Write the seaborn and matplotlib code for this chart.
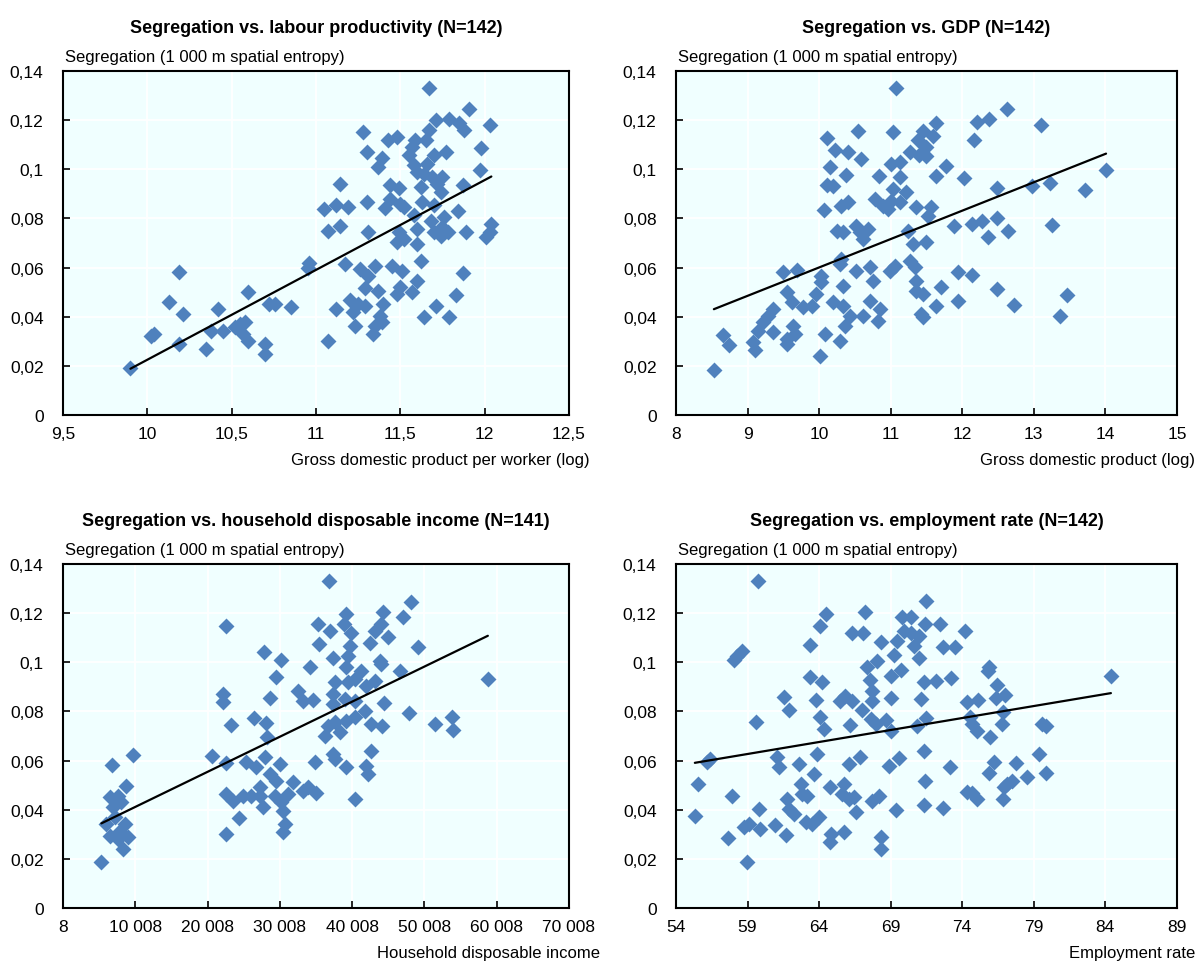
import matplotlib
matplotlib.use("Agg")
import matplotlib.pyplot as plt
import seaborn as sns
import numpy as np
import pandas as pd
from matplotlib.ticker import FuncFormatter

# Segregation vs. labour productivity (log GDP per worker)
prod_x = [9.90, 10.02, 10.04, 10.13, 10.19, 10.21, 10.19, 10.35, 10.38, 10.42, 10.45, 10.52,
          10.55, 10.58, 10.57, 10.60, 10.60, 10.70, 10.70, 10.72, 10.76, 10.85, 10.95, 10.96,
          11.67, 11.91, 12.03, 11.71, 11.79, 11.85, 11.88, 11.67, 11.65, 11.28, 11.43, 11.48,
          11.59, 11.57, 11.98, 11.30, 11.55, 11.70, 11.77, 11.39, 11.37, 11.58, 11.66, 11.60,
          11.64, 11.97, 11.69, 11.75, 11.14, 11.44, 11.49, 11.62, 11.72, 11.87, 11.74, 11.44,
          11.30, 11.05, 11.12, 11.19, 11.41, 11.50, 11.52, 11.63, 11.70, 11.84, 11.58, 11.68,
          11.76, 11.07, 11.14, 11.31, 11.49, 11.60, 11.70, 11.75, 11.78, 11.89, 12.04, 12.03,
          12.01, 11.74, 11.48, 11.52, 11.60, 11.17, 11.26, 11.35, 11.45, 11.51, 11.62, 11.31,
          11.60, 11.87, 11.29, 11.37, 11.50, 11.57, 11.48, 11.83, 11.12, 11.20, 11.25, 11.29,
          11.22, 11.40, 11.38, 11.39, 11.71, 11.64, 11.79, 11.23, 11.35, 11.34, 11.07]
prod_y = [0.019, 0.032, 0.033, 0.046, 0.058, 0.041, 0.029, 0.027, 0.034, 0.043, 0.034, 0.036,
          0.037, 0.038, 0.033, 0.030, 0.050, 0.029, 0.025, 0.045, 0.045, 0.044, 0.060, 0.062,
          0.133, 0.1245, 0.118, 0.120, 0.1205, 0.119, 0.116, 0.116, 0.112, 0.115, 0.1117, 0.113,
          0.1117, 0.109, 0.1085, 0.107, 0.106, 0.106, 0.107, 0.1045, 0.1008, 0.1017, 0.102, 0.0988,
          0.098, 0.0998, 0.0967, 0.0967, 0.094, 0.0936, 0.0923, 0.0927, 0.094, 0.0936, 0.0909, 0.088,
          0.0866, 0.0838, 0.0855, 0.0845, 0.0841, 0.0859, 0.0845, 0.0866, 0.0855, 0.0832, 0.0814, 0.0791,
          0.0805, 0.075, 0.0768, 0.0746, 0.0744, 0.0757, 0.0744, 0.0764, 0.0744, 0.0746, 0.0777, 0.0746,
          0.0723, 0.073, 0.0705, 0.0716, 0.0696, 0.0615, 0.0594, 0.0605, 0.0605, 0.0587, 0.0628, 0.0567,
          0.0547, 0.0578, 0.0516, 0.0506, 0.052, 0.0502, 0.0492, 0.0488, 0.0431, 0.0469, 0.0452, 0.0445,
          0.0418, 0.0452, 0.0404, 0.0377, 0.0445, 0.040, 0.040, 0.0364, 0.0364, 0.033, 0.030]

# Segregation vs. GDP (log)
gdp_x = [8.53, 8.66, 8.74, 9.10, 9.08, 9.14, 9.22, 9.29, 9.36, 9.36, 9.55, 9.55, 9.64, 9.66,
         9.50, 9.69, 9.55, 9.62, 9.78, 9.90, 9.96, 10.03, 10.03, 10.01, 10.08, 10.20, 10.29,
         10.34, 10.36, 10.34, 10.29, 10.31, 10.43, 10.52, 10.62, 10.71, 10.76, 10.71, 10.85,
         10.83, 10.99, 11.06, 10.07, 10.11, 10.20, 10.15, 10.11, 10.22, 10.41, 10.38, 10.30,
         10.41, 10.25, 10.34, 10.52, 10.57, 10.62, 10.69, 10.54, 10.58, 10.84, 10.78, 10.90,
         10.97, 11.01, 11.03, 11.13, 11.22, 11.13, 11.01, 11.13, 11.04, 11.07, 11.27, 11.38,
         11.45, 11.40, 11.36, 11.24, 11.31, 11.27, 11.34, 11.36, 11.36, 11.45, 11.43, 11.50,
         11.64, 11.59, 11.50, 11.49, 11.78, 11.63, 12.03, 12.20, 12.38, 12.63, 13.10, 12.16,
         11.57, 11.52, 11.88, 12.13, 12.28, 12.36, 12.49, 12.64, 12.49, 12.98, 13.22, 13.71,
         14.01, 13.26, 11.71, 11.94, 12.13, 11.94, 11.64, 11.45, 12.48, 12.73, 13.46, 13.36]
gdp_y = [0.0183, 0.0326, 0.0285, 0.0266, 0.0296, 0.0343, 0.0377, 0.0404, 0.0431, 0.0336, 0.0289,
         0.0309, 0.0363, 0.033, 0.0583, 0.0591, 0.050, 0.0459, 0.0438, 0.0445, 0.0492, 0.0567,
         0.054, 0.0241, 0.033, 0.0459, 0.0302, 0.0445, 0.0363, 0.0526, 0.0615, 0.0635, 0.0404,
         0.0587, 0.0404, 0.0601, 0.0547, 0.0465, 0.0431, 0.0384, 0.0587, 0.0608, 0.0836, 0.0936,
         0.093, 0.1008, 0.1127, 0.108, 0.107, 0.0977, 0.0852, 0.0868, 0.075, 0.0744, 0.077, 0.0744,
         0.0716, 0.0757, 0.1157, 0.1042, 0.0974, 0.0879, 0.0852, 0.0838, 0.0872, 0.092, 0.0866,
         0.0906, 0.0967, 0.1022, 0.1028, 0.115, 0.133, 0.107, 0.1117, 0.1157, 0.106, 0.0845, 0.075,
         0.0696, 0.0628, 0.0601, 0.0547, 0.0506, 0.0492, 0.0411, 0.0703, 0.119, 0.1137, 0.109,
         0.1053, 0.1015, 0.0974, 0.0964, 0.1194, 0.1205, 0.1245, 0.118, 0.1117, 0.0845, 0.0811,
         0.0768, 0.0777, 0.0791, 0.0723, 0.080, 0.0747, 0.0924, 0.0933, 0.0943, 0.0916, 0.0997,
         0.0775, 0.052, 0.058, 0.057, 0.0465, 0.0445, 0.0398, 0.0513, 0.0449, 0.049, 0.0402]

# Segregation vs. household disposable income
inc_x = [5320, 6840, 9690, 8780, 6470, 7620, 8090, 6920, 7160, 6010, 8540, 6470, 7620, 8990,
         8310, 7850, 22610, 22140, 22140, 23300, 20670, 22610, 22610, 23520, 24900, 24350,
         22510, 25370, 26060, 26760, 27210, 27670, 27210, 26420, 27760, 28040, 28220, 27900,
         28590, 29520, 30210, 28590, 29520, 29980, 29290, 30210, 30430, 30670, 30430, 31130,
         31820, 32510, 33200, 34120, 33200, 33890, 34580, 34810, 35270, 35410, 36760, 36890,
         39200, 38870, 39890, 39660, 39430, 37350, 39200, 44260, 48190, 47030, 44040, 43110,
         44950, 42420, 49110, 43810, 44040, 41280, 46570, 40350, 39430, 43110, 41970, 37580,
         58790, 37350, 38960, 40350, 44400, 37350, 41730, 47820, 40350, 39200, 37580, 36660,
         42660, 44180, 51410, 53860, 53950, 38270, 36200, 42660, 37350, 37580, 39200, 41970,
         42190, 35050, 40350]
inc_y = [0.0186, 0.0583, 0.0624, 0.0498, 0.045, 0.0457, 0.043, 0.041, 0.0369, 0.0342, 0.0342,
         0.0294, 0.0281, 0.0288, 0.024, 0.0315, 0.1149, 0.0871, 0.0837, 0.0746, 0.0617, 0.0589,
         0.0464, 0.0437, 0.0457, 0.0365, 0.0301, 0.0593, 0.0457, 0.0573, 0.0491, 0.041, 0.0457,
         0.0772, 0.1043, 0.0752, 0.0695, 0.0613, 0.0855, 0.0939, 0.1009, 0.0545, 0.0518, 0.0586,
         0.0457, 0.043, 0.0396, 0.0342, 0.0308, 0.0464, 0.0512, 0.0882, 0.0844, 0.098, 0.0475,
         0.0491, 0.0847, 0.0593, 0.1156, 0.1075, 0.133, 0.1129, 0.1197, 0.1156, 0.1118, 0.1068,
         0.1027, 0.1018, 0.098, 0.1204, 0.1247, 0.1183, 0.1156, 0.1129, 0.1104, 0.1077, 0.1061,
         0.1006, 0.0993, 0.0966, 0.0966, 0.0932, 0.0919, 0.0925, 0.0905, 0.0919, 0.0932, 0.0871,
         0.085, 0.0844, 0.0833, 0.083, 0.0803, 0.0792, 0.0776, 0.0762, 0.0756, 0.0742, 0.0749,
         0.0742, 0.0749, 0.0776, 0.0724, 0.0715, 0.0701, 0.0638, 0.0627, 0.0606, 0.0573, 0.0579,
         0.0545, 0.0467, 0.0444]

# Segregation vs. employment rate
emp_x = [59.74, 58.07, 58.30, 58.65, 55.51, 55.32, 56.16, 56.39, 57.95, 57.65, 58.72, 59.11,
         58.95, 59.81, 59.88, 59.58, 61.03, 61.20, 61.55, 61.90, 60.90, 61.67, 61.79, 61.90,
         62.25, 62.60, 62.72, 62.84, 63.19, 63.07, 63.53, 64.00, 63.40, 63.40, 64.09, 64.51,
         64.21, 63.82, 64.09, 64.37, 63.86, 63.64, 64.79, 64.84, 64.79, 65.74, 65.74, 65.62,
         66.08, 66.43, 66.55, 65.49, 65.84, 66.30, 66.19, 66.08, 66.85, 66.30, 67.07, 67.19,
         67.01, 67.53, 67.37, 67.67, 67.72, 67.60, 67.95, 68.07, 68.35, 67.72, 68.18, 68.35,
         68.35, 69.00, 69.05, 68.65, 69.05, 68.88, 69.58, 69.35, 69.46, 69.23, 69.70, 69.81,
         69.93, 70.39, 70.39, 70.62, 70.97, 70.97, 71.49, 71.42, 71.09, 70.86, 71.33, 71.38,
         71.33, 71.33, 72.44, 74.23, 72.67, 73.53, 72.14, 73.25, 75.85, 75.78, 76.43, 76.39,
         77.02, 84.39, 74.35, 75.09, 71.44, 74.56, 74.69, 75.02, 76.85, 76.78, 79.58, 79.86,
         75.92, 73.18, 76.20, 75.85, 77.78, 79.34, 78.53, 79.86, 77.47, 77.12, 76.90, 74.35,
         74.69, 75.02, 76.85, 72.67]
emp_y = [0.133, 0.1009, 0.1027, 0.1045, 0.0505, 0.0373, 0.0593, 0.0606, 0.0457, 0.0285, 0.0331,
         0.0342, 0.0186, 0.0403, 0.0322, 0.0756, 0.0613, 0.0573, 0.0858, 0.0807, 0.0339, 0.0298,
         0.0444, 0.0403, 0.0383, 0.0586, 0.0505, 0.0464, 0.0457, 0.0349, 0.0342, 0.0369, 0.0939,
         0.1072, 0.1149, 0.1197, 0.0919, 0.0847, 0.0776, 0.0729, 0.0627, 0.0545, 0.0491, 0.0301,
         0.0267, 0.0308, 0.0505, 0.0464, 0.0444, 0.045, 0.039, 0.0844, 0.0864, 0.0844, 0.0746,
         0.0586, 0.0616, 0.1118, 0.1118, 0.1204, 0.0806, 0.0928, 0.098, 0.0884, 0.0844, 0.0769,
         0.0749, 0.1007, 0.1081, 0.0437, 0.0457, 0.029, 0.024, 0.0855, 0.0945, 0.0765, 0.0722,
         0.0579, 0.061, 0.040, 0.1085, 0.1031, 0.0969, 0.1183, 0.1129, 0.1186, 0.1118, 0.1068,
         0.1108, 0.1018, 0.1248, 0.1156, 0.0851, 0.0742, 0.0638, 0.0518, 0.042, 0.0919, 0.1156,
         0.1126, 0.1061, 0.1061, 0.0925, 0.0935, 0.098, 0.0963, 0.0909, 0.0855, 0.0868, 0.0943,
         0.0837, 0.0847, 0.0773, 0.0776, 0.0749, 0.0722, 0.0796, 0.0749, 0.0749, 0.0742, 0.0695,
         0.0573, 0.0595, 0.0549, 0.0589, 0.0627, 0.0532, 0.0548, 0.0518, 0.0505, 0.0491, 0.0471,
         0.0467, 0.0444, 0.0444, 0.0407]

ylabel = "Segregation (1 000 m spatial entropy)"
blue = "#4F81BD"

sns.set_style("ticks")
plt.rcParams['font.family'] = ['Liberation Sans', 'DejaVu Sans']
for k in ["text.color", "axes.labelcolor", "xtick.color", "ytick.color"]:
    plt.rcParams[k] = "black"

fig = plt.figure(figsize=(11.97, 9.62), dpi=100)
boxes = [[0.0526, 0.5676, 0.4227, 0.3576], [0.5647, 0.5676, 0.4185, 0.3576],
         [0.0526, 0.0551, 0.4227, 0.3576], [0.5647, 0.0551, 0.4185, 0.3576]]
# right end of the x-axis title, in axes fraction
xlab_right = [1.041, 1.036, 1.061, 1.036]

panels = [
    (prod_x, prod_y, "Segregation vs. labour productivity (N=142)",
     "Gross domestic product per worker (log)", np.arange(9.5, 12.51, 0.5)),
    (gdp_x, gdp_y, "Segregation vs. GDP (N=142)",
     "Gross domestic product (log)", np.arange(8, 15.1, 1)),
    (inc_x, inc_y, "Segregation vs. household disposable income (N=141)",
     "Household disposable income", np.arange(8, 70009, 10000)),
    (emp_x, emp_y, "Segregation vs. employment rate (N=142)",
     "Employment rate", np.arange(54, 89.1, 5)),
]

def num(v, _):
    if abs(v) >= 1000:
        return f"{v:,.0f}".replace(",", " ")
    return ("%g" % round(v, 4)).replace(".", ",")

for box, xr, (xs, ys, title, xlab, xt) in zip(boxes, xlab_right, panels):
    ax = fig.add_axes(box)
    df = pd.DataFrame({"x": xs, "y": ys})
    sns.scatterplot(data=df, x="x", y="y", ax=ax, marker="D", s=66,
                    color=blue, linewidth=0, zorder=3)
    sns.regplot(data=df, x="x", y="y", ax=ax, scatter=False, ci=None, truncate=True,
                line_kws={"color": "black", "lw": 1.6, "zorder": 4})
    ax.set_facecolor("#F0FFFF")
    ax.set_xlim(xt[0], xt[-1])
    ax.set_ylim(0, 0.14)
    ax.set_xticks(xt)
    ax.set_yticks(np.arange(0, 0.141, 0.02))
    ax.grid(True, color="white", lw=1.3)
    ax.set_axisbelow(True)
    ax.tick_params(direction="in", length=5, width=1.2, labelsize=12.5)
    ax.tick_params(axis="x", pad=8)
    ax.tick_params(axis="y", pad=14)
    ax.xaxis.set_major_formatter(FuncFormatter(num))
    ax.yaxis.set_major_formatter(FuncFormatter(num))
    for s in ax.spines.values():
        s.set_color("black")
        s.set_linewidth(1.5)
    ax.set_title(title, fontweight="bold", fontsize=13, pad=28)
    ax.set_xlabel("")
    ax.set_ylabel("")
    ax.text(xr, -0.128, xlab, transform=ax.transAxes, fontsize=12, ha="right", va="center")
    ax.text(0.005, 1.02, ylabel, transform=ax.transAxes, fontsize=12, va="bottom")

fig.savefig("out.png", dpi=100, facecolor="white")
